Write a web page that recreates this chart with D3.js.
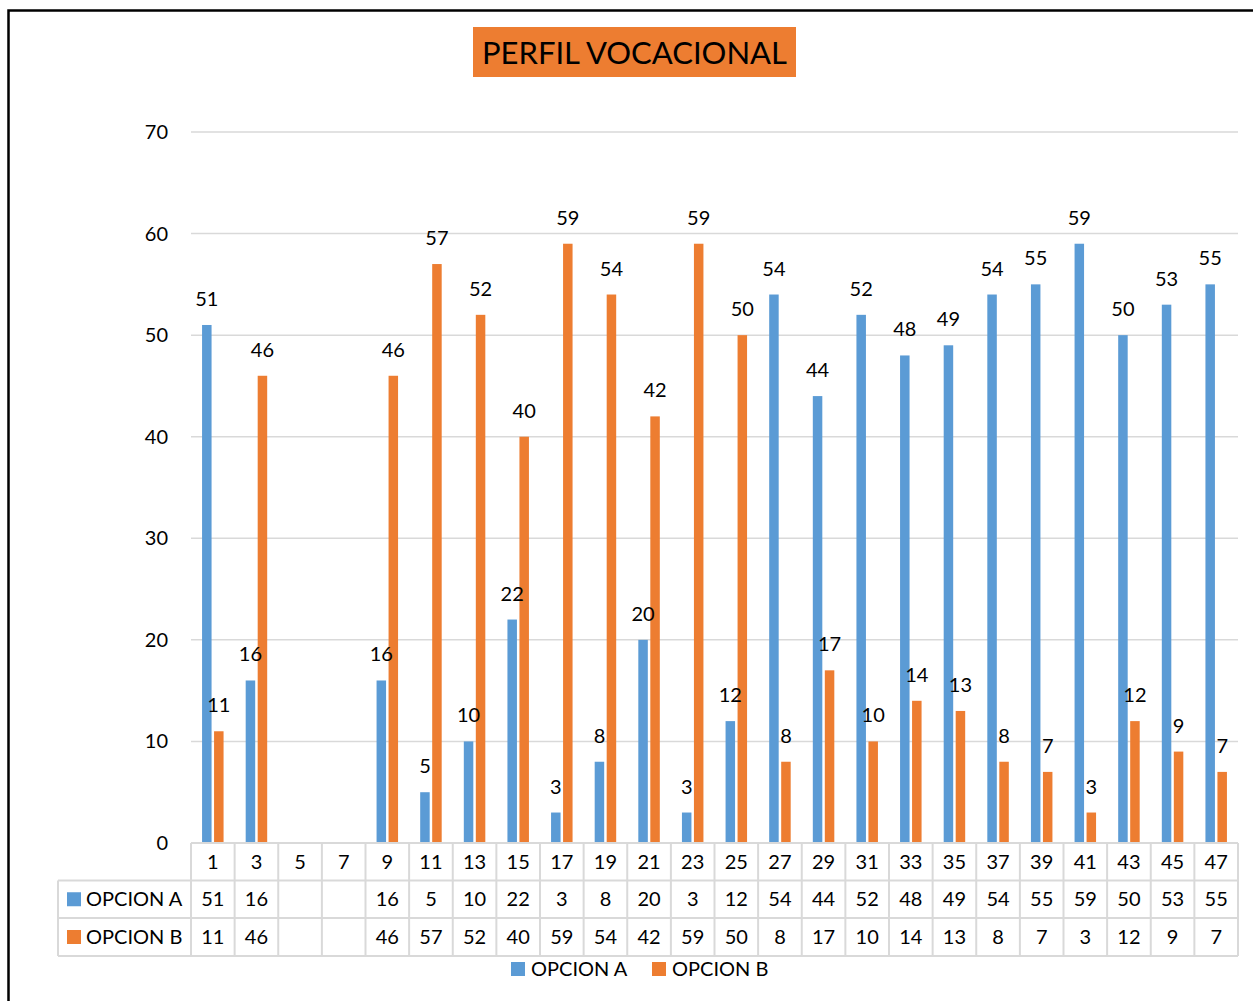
<!DOCTYPE html>
<html lang="en">
<head>
  <meta charset="UTF-8">
  <title>Perfil Vocacional</title>
  <script src="https://d3js.org/d3.v7.min.js"></script>
  <style>
    body { margin: 0; background: #fff; font-family: Lato, 'Open Sans', sans-serif; }
  </style>
</head>
<body>
  <script>
    const categories = [1, 3, 5, 7, 9, 11, 13, 15, 17, 19, 21, 23, 25, 27, 29, 31, 33, 35, 37, 39, 41, 43, 45, 47];
    const opcionA = [51, 16, null, null, 16, 5, 10, 22, 3, 8, 20, 3, 12, 54, 44, 52, 48, 49, 54, 55, 59, 50, 53, 55];
    const opcionB = [11, 46, null, null, 46, 57, 52, 40, 59, 54, 42, 59, 50, 8, 17, 10, 14, 13, 8, 7, 3, 12, 9, 7];
    const yTicks = [0, 10, 20, 30, 40, 50, 60, 70];

    const series = [
      { name: "OPCION A", values: opcionA, color: "#5b9bd5" },
      { name: "OPCION B", values: opcionB, color: "#ed7d31" }
    ];

    const width = 1253, height = 1001;
    const font = "Lato, 'Open Sans', sans-serif";

    const svg = d3.create("svg")
        .attr("width", width)
        .attr("height", height)
        .style("font-family", font);

    // frame
    svg.append("rect")
        .attr("x", 8.5).attr("y", 10.5)
        .attr("width", 1260).attr("height", 1010)
        .attr("fill", "none")
        .attr("stroke", "#000")
        .attr("stroke-width", 2.5);

    // title
    svg.append("rect")
        .attr("x", 473).attr("y", 27)
        .attr("width", 323).attr("height", 50)
        .attr("fill", "#ed7d31");
    svg.append("text")
        .attr("x", 634.5).attr("y", 64)
        .attr("text-anchor", "middle")
        .attr("font-size", 31)
        .attr("fill", "#000")
        .text("PERFIL VOCACIONAL");

    const x = d3.scaleBand().domain(categories).range([191, 1238]);
    const y = d3.scaleLinear().domain([0, 70]).range([843, 132]);

    // gridlines
    svg.append("g")
        .attr("stroke", "#d9d9d9")
        .attr("stroke-width", 1.5)
      .selectAll("line")
      .data(yTicks)
      .join("line")
        .attr("x1", 191).attr("x2", 1238)
        .attr("y1", d => y(d)).attr("y2", d => y(d));

    svg.append("g")
        .attr("font-size", 20)
        .attr("fill", "#000")
      .selectAll("text")
      .data(yTicks)
      .join("text")
        .attr("x", 168)
        .attr("y", d => y(d))
        .attr("dy", "0.35em")
        .attr("text-anchor", "end")
        .text(d => d);

    // bars first, then all data labels on top
    const barW = 9.5, gap = 2.5;
    const barsG = svg.append("g");
    const labelsG = svg.append("g").attr("font-size", 20).attr("fill", "#000");
    series.forEach((s, i) => {
      const pts = categories.map((c, j) => ({ c, v: s.values[j] })).filter(d => d.v != null);
      const off = i === 0 ? -gap / 2 - barW : gap / 2;
      barsG.append("g").selectAll("rect")
        .data(pts)
        .join("rect")
          .attr("x", d => x(d.c) + x.bandwidth() / 2 + off)
          .attr("y", d => y(d.v))
          .attr("width", barW)
          .attr("height", d => y(0) - y(d.v))
          .attr("fill", s.color);
      labelsG.append("g").selectAll("text")
        .data(pts)
        .join("text")
          .attr("x", d => x(d.c) + x.bandwidth() / 2 + off + barW / 2)
          .attr("y", d => y(d.v) - 19)
          .attr("text-anchor", "middle")
          .text(d => d.v);
    });

    // data table
    const rowTop = [843, 880.5, 918, 956];
    const tbl = svg.append("g");
    const gridColor = "#d9d9d9";

    tbl.selectAll("text.cat")
      .data(categories)
      .join("text")
        .attr("class", "cat")
        .attr("x", d => x(d) + x.bandwidth() / 2)
        .attr("y", (rowTop[0] + rowTop[1]) / 2)
        .attr("dy", "0.35em")
        .attr("text-anchor", "middle")
        .attr("font-size", 20)
        .text(d => d);

    series.forEach((s, i) => {
      const yc = (rowTop[i + 1] + rowTop[i + 2]) / 2;
      tbl.append("rect")
          .attr("x", 67).attr("y", yc - 7)
          .attr("width", 14).attr("height", 14)
          .attr("fill", s.color);
      tbl.append("text")
          .attr("x", 86).attr("y", yc)
          .attr("dy", "0.35em")
          .attr("font-size", 20)
          .text(s.name);
      tbl.selectAll("text.v" + i)
        .data(categories.map((c, j) => ({ c, v: s.values[j] })))
        .join("text")
          .attr("class", "v" + i)
          .attr("x", d => x(d.c) + x.bandwidth() / 2)
          .attr("y", yc)
          .attr("dy", "0.35em")
          .attr("text-anchor", "middle")
          .attr("font-size", 20)
          .text(d => d.v == null ? "" : d.v);
    });

    // table grid lines
    const lines = [];
    lines.push([191, rowTop[0], 1238, rowTop[0]]);
    rowTop.slice(1).forEach(t => lines.push([58, t, 1238, t]));
    lines.push([58, rowTop[1], 58, rowTop[3]]);
    categories.forEach(c => lines.push([x(c), rowTop[0], x(c), rowTop[3]]));
    lines.push([1238, rowTop[0], 1238, rowTop[3]]);
    tbl.append("g")
        .attr("stroke", gridColor)
        .attr("stroke-width", 2)
      .selectAll("line")
      .data(lines)
      .join("line")
        .attr("x1", d => d[0]).attr("y1", d => d[1])
        .attr("x2", d => d[2]).attr("y2", d => d[3]);

    // legend
    const legend = svg.append("g").attr("font-size", 20);
    const legendX = [511, 652];
    series.forEach((s, i) => {
      legend.append("rect")
          .attr("x", legendX[i]).attr("y", 962)
          .attr("width", 14).attr("height", 14)
          .attr("fill", s.color);
      legend.append("text")
          .attr("x", legendX[i] + 20).attr("y", 969)
          .attr("dy", "0.35em")
          .text(s.name);
    });

    document.body.appendChild(svg.node());
  </script>
</body>
</html>
